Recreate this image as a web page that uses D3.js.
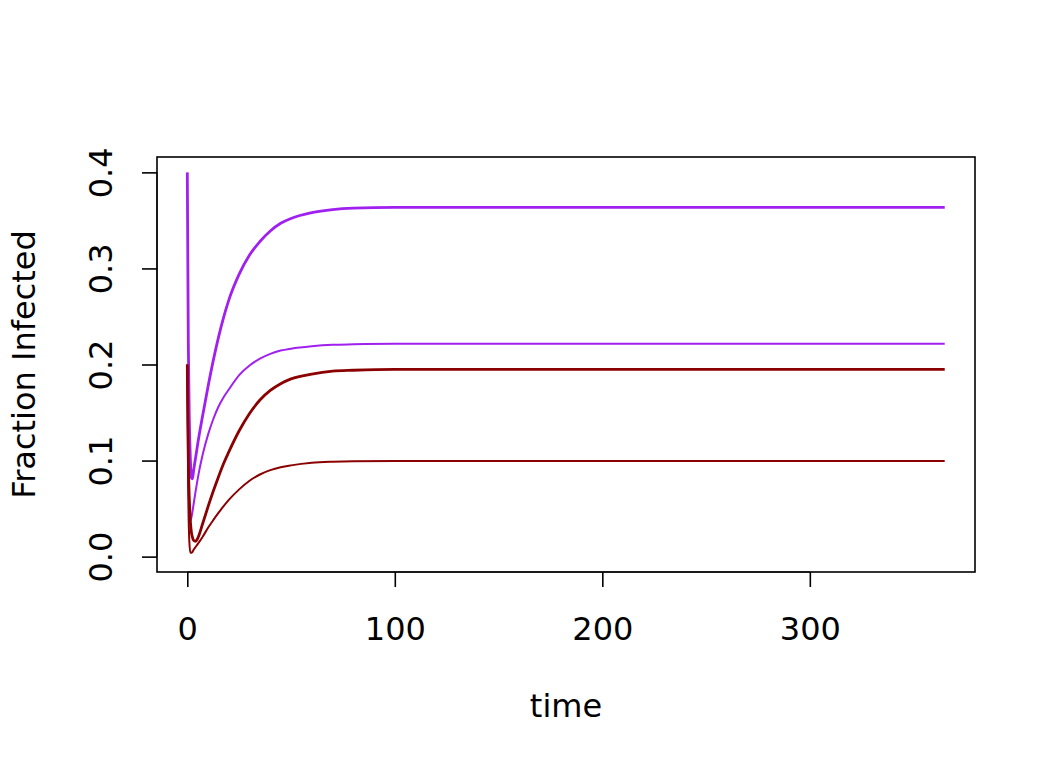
<!DOCTYPE html>
<html>
<head>
<meta charset="utf-8">
<script src="https://cdn.jsdelivr.net/npm/d3@7"></script>
<style>
	html, body { margin: 0; padding: 0; background: #fff; }
	svg { display: block; }
	text { font-family: "DejaVu Sans", sans-serif; fill: #000; }
</style>
</head>
<body>
<svg width="1056" height="768"></svg>
<script>
// time points (days)
var time = [0, 0.5, 1, 1.5, 2, 2.5, 3, 4, 5, 7.5, 10, 12.5, 15, 17.5, 20, 25, 30, 35, 40, 45, 50, 60, 70, 80, 100, 150, 200, 365]

// fraction infected, one array per curve
var purple_high = [0.400, 0.220, 0.140, 0.100, 0.082, 0.081, 0.089, 0.103, 0.117, 0.148, 0.177, 0.204, 0.228, 0.249, 0.267, 0.294, 0.314, 0.328, 0.339, 0.347, 0.352, 0.358, 0.3612, 0.3627, 0.3635, 0.3635, 0.3635, 0.3635]
var purple_low = [0.200, 0.090, 0.050, 0.037, 0.041, 0.047, 0.054, 0.068, 0.081, 0.107, 0.127, 0.143, 0.156, 0.166, 0.174, 0.189, 0.199, 0.206, 0.211, 0.2145, 0.2165, 0.219, 0.2205, 0.221, 0.2215, 0.2215, 0.2215, 0.2215]
var darkred_high = [0.200, 0.100, 0.058, 0.036, 0.025, 0.020, 0.017, 0.016, 0.019, 0.035, 0.052, 0.068, 0.083, 0.097, 0.109, 0.131, 0.149, 0.163, 0.173, 0.180, 0.185, 0.190, 0.193, 0.194, 0.195, 0.195, 0.195, 0.195]
var darkred_low = [0.200, 0.060, 0.015, 0.004, 0.004, 0.005, 0.007, 0.010, 0.013, 0.021, 0.030, 0.038, 0.0455, 0.0525, 0.059, 0.070, 0.079, 0.0855, 0.090, 0.093, 0.095, 0.0977, 0.0988, 0.0993, 0.0995, 0.0995, 0.0995, 0.0995]

var x_ticks = [0, 100, 200, 300]
var y_ticks = [0.0, 0.1, 0.2, 0.3, 0.4]

var series = [
	{ values: purple_high, color: '#A020F0', width: 2.8 },
	{ values: purple_low, color: '#A020F0', width: 2 },
	{ values: darkred_high, color: '#8B0000', width: 2.8 },
	{ values: darkred_low, color: '#8B0000', width: 2 }
]

draw()

function draw() {
	var svg = d3.select('svg'),
		plot_l = 157, plot_r = 975, plot_t = 157, plot_b = 572,
		font_size = 32

	// R style: data range padded by 4% on each side
	var x = d3.scaleLinear().domain([-14.6, 379.6]).range([plot_l, plot_r]),
		y = d3.scaleLinear().domain([-0.016, 0.416]).range([plot_b, plot_t])

	var line = d3.line()
		.x(function(d) { return x(d[0]) })
		.y(function(d) { return y(d[1]) })
		.curve(d3.curveMonotoneX)

	series.forEach(function(s) {
		svg.append('path')
			.datum(time.map(function(t, i) { return [t, s.values[i]] }))
			.attr('d', line)
			.attr('fill', 'none')
			.attr('stroke', s.color)
			.attr('stroke-width', s.width)
			.attr('stroke-linejoin', 'round')
	})

	// box
	svg.append('rect')
		.attr('x', plot_l).attr('y', plot_t)
		.attr('width', plot_r - plot_l).attr('height', plot_b - plot_t)
		.attr('fill', 'none').attr('stroke', '#000').attr('stroke-width', 1.6)

	// x axis
	var x_axis = svg.append('g')
		.attr('transform', 'translate(0,' + plot_b + ')')
		.call(d3.axisBottom(x).tickValues(x_ticks).tickSize(15).tickSizeOuter(0).tickPadding(53))
	x_axis.select('.domain')
		.attr('d', 'M' + x(x_ticks[0]) + ',0H' + x(x_ticks[x_ticks.length - 1]))
	x_axis.selectAll('line').attr('stroke-width', 1.6)
	x_axis.selectAll('text')
		.attr('font-size', font_size)
		.attr('font-family', '"DejaVu Sans", sans-serif')
		.attr('dy', 0)

	// y axis
	var y_axis = svg.append('g')
		.attr('transform', 'translate(' + plot_l + ',0)')
		.call(d3.axisLeft(y).tickValues(y_ticks).tickSize(15).tickSizeOuter(0).tickFormat(d3.format('.1f')))
	y_axis.select('.domain')
		.attr('d', 'M0,' + y(y_ticks[0]) + 'V' + y(y_ticks[y_ticks.length - 1]))
	y_axis.selectAll('line').attr('stroke-width', 1.6)
	y_axis.selectAll('text')
		.attr('font-size', font_size)
		.attr('font-family', '"DejaVu Sans", sans-serif')
		.attr('x', 0).attr('dy', 0)
		.attr('text-anchor', 'middle')
		.attr('transform', 'translate(-45,0) rotate(-90)')

	// axis titles
	svg.append('text')
		.attr('x', (plot_l + plot_r) / 2).attr('y', 717)
		.attr('text-anchor', 'middle')
		.attr('font-size', font_size)
		.text('time')

	svg.append('text')
		.attr('transform', 'translate(35,' + (plot_t + plot_b) / 2 + ') rotate(-90)')
		.attr('text-anchor', 'middle')
		.attr('font-size', font_size)
		.text('Fraction Infected')
}
</script>
</body>
</html>
